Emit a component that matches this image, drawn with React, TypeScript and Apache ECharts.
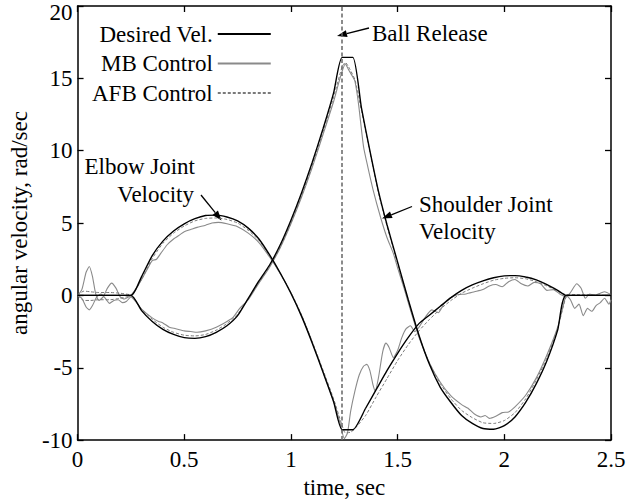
import React, { useEffect, useRef } from "react";
import * as echarts from "echarts";

const X_TICKS = [0, 0.5, 1, 1.5, 2, 2.5];
const Y_TICKS = [-10, -5, 0, 5, 10, 15, 20];
const LEGEND_NAMES = ["Desired Vel.", "MB Control", "AFB Control"];
const BALL_RELEASE_T = 1.24;

const desiredElbow = [
  [0, 0], [0.25, 0], [0.3, 1.3], [0.35, 2.75], [0.4, 3.75], [0.45, 4.45], [0.5, 4.95], [0.55, 5.3], [0.6, 5.52],
  [0.65, 5.55], [0.7, 5.42], [0.75, 5.15], [0.8, 4.65], [0.85, 3.9], [0.9, 2.8], [0.95, 1.55], [1.0, 0.15],
  [1.05, -1.45], [1.1, -3.3], [1.15, -5.3], [1.2, -7.35], [1.24, -9.28], [1.29, -9.28], [1.35, -7.8], [1.4, -6.5],
  [1.45, -5.2], [1.5, -4.0], [1.55, -2.9], [1.6, -1.95], [1.65, -1.35], [1.7, -0.75], [1.75, -0.15], [1.8, 0.35],
  [1.85, 0.72], [1.9, 1.0], [1.95, 1.22], [2.0, 1.35], [2.05, 1.37], [2.1, 1.27], [2.15, 1.07], [2.2, 0.75],
  [2.25, 0.35], [2.29, 0], [2.5, 0],
];

const desiredShoulder = [
  [0, 0], [0.25, 0], [0.3, -1.05], [0.35, -1.8], [0.4, -2.35], [0.45, -2.7], [0.5, -2.92], [0.55, -2.97],
  [0.6, -2.85], [0.65, -2.55], [0.7, -2.1], [0.75, -1.4], [0.8, -0.2], [0.85, 1.0], [0.9, 2.1], [0.95, 3.5],
  [1.0, 5.2], [1.05, 7.1], [1.1, 9.2], [1.15, 11.5], [1.2, 14.0], [1.24, 16.45], [1.29, 16.45], [1.33, 13.0],
  [1.37, 10.0], [1.41, 7.2], [1.45, 4.9], [1.5, 2.3], [1.55, -0.3], [1.6, -2.75], [1.65, -4.8], [1.7, -6.35],
  [1.75, -7.4], [1.8, -8.3], [1.85, -8.85], [1.9, -9.2], [1.95, -9.25], [2.0, -9.0], [2.05, -8.4], [2.1, -7.4],
  [2.15, -6.1], [2.2, -4.5], [2.25, -2.4], [2.29, 0], [2.5, 0],
];

const mbElbow = [
  [0, 0], [0.02, 0.4], [0.04, 1.6], [0.055, 2.0], [0.07, 1.3], [0.085, 0.1], [0.1, -0.35], [0.12, -0.1],
  [0.14, 0.5], [0.16, 0.85], [0.18, 0.5], [0.2, -0.1], [0.22, -0.25], [0.24, -0.1], [0.25, 0], [0.28, 0.6],
  [0.3, 1.1], [0.33, 1.9], [0.35, 2.4], [0.37, 2.5], [0.39, 2.9], [0.42, 3.5], [0.45, 3.9], [0.48, 4.2],
  [0.5, 4.4], [0.53, 4.55], [0.56, 4.7], [0.6, 4.85], [0.63, 5.0], [0.66, 5.05], [0.7, 4.95], [0.75, 4.75],
  [0.8, 4.3], [0.85, 3.65], [0.9, 2.65], [0.95, 1.5], [1.0, 0.15], [1.05, -1.4], [1.1, -3.25], [1.15, -5.25],
  [1.2, -7.3], [1.23, -8.8], [1.25, -9.9], [1.265, -9.5], [1.28, -8.0], [1.3, -6.6], [1.32, -5.5], [1.34, -4.9],
  [1.355, -4.77], [1.37, -5.2], [1.385, -6.2], [1.395, -6.6], [1.41, -5.7], [1.43, -3.9], [1.445, -3.3],
  [1.46, -3.6], [1.48, -4.3], [1.5, -3.8], [1.52, -2.9], [1.54, -2.3], [1.56, -2.1], [1.58, -2.5], [1.6, -2.2],
  [1.63, -1.5], [1.66, -1.0], [1.69, -1.2], [1.72, -0.5], [1.75, -0.15], [1.78, 0.05], [1.82, 0.1], [1.86, 0.25],
  [1.9, 0.4], [1.93, 0.65], [1.96, 0.75], [1.99, 0.6], [2.02, 0.95], [2.05, 1.1], [2.08, 0.8], [2.11, 0.65],
  [2.14, 0.9], [2.17, 0.8], [2.2, 0.35], [2.23, 0.4], [2.26, 0.1], [2.29, -0.1], [2.31, 0.2], [2.34, 0.8],
  [2.36, 0.5], [2.38, -0.2], [2.4, 0.1], [2.42, 0.0], [2.45, 0.15], [2.47, 0.25], [2.5, 0.05],
];

const mbShoulder = [
  [0, 0], [0.02, -0.2], [0.04, -0.8], [0.055, -1.0], [0.07, -0.7], [0.09, -0.1], [0.11, 0.1], [0.13, -0.2],
  [0.15, -0.55], [0.17, -0.35], [0.19, -0.3], [0.21, -0.5], [0.23, -0.4], [0.25, -0.1], [0.3, -0.95],
  [0.35, -1.55], [0.38, -1.8], [0.4, -1.9], [0.43, -2.2], [0.46, -2.3], [0.5, -2.45], [0.53, -2.5], [0.56, -2.55],
  [0.6, -2.45], [0.65, -2.2], [0.7, -1.8], [0.73, -1.5], [0.76, -0.9], [0.8, -0.3], [0.85, 0.85], [0.9, 1.95],
  [0.95, 3.3], [1.0, 4.95], [1.05, 6.8], [1.1, 8.85], [1.15, 11.1], [1.2, 13.4], [1.23, 15.0], [1.255, 16.0],
  [1.27, 15.6], [1.29, 15.1], [1.3, 14.8], [1.317, 13.2], [1.34, 10.3], [1.36, 8.9], [1.385, 7.3], [1.42, 5.4],
  [1.45, 4.0], [1.48, 2.9], [1.5, 1.9], [1.53, 0.5], [1.56, -1.0], [1.6, -2.9], [1.65, -4.7], [1.7, -6.0],
  [1.75, -6.95], [1.8, -7.55], [1.83, -7.8], [1.86, -8.2], [1.89, -8.4], [1.91, -8.3], [1.93, -8.5],
  [1.96, -8.35], [1.99, -8.1], [2.02, -8.05], [2.05, -7.7], [2.1, -6.9], [2.15, -5.7], [2.2, -4.1], [2.25, -2.2],
  [2.28, -0.5], [2.29, 0], [2.31, -0.3], [2.33, -0.9], [2.35, -0.6], [2.37, -1.4], [2.39, -0.9], [2.41, -1.1],
  [2.43, -0.7], [2.45, -0.5], [2.47, -0.2], [2.49, -0.6], [2.5, -0.3],
];

const afbElbow = [
  [0, 0], [0.03, 0.3], [0.06, 0.25], [0.1, 0.2], [0.15, 0.2], [0.2, 0.15], [0.25, 0.05], [0.3, 1.1],
  [0.35, 2.55], [0.4, 3.6], [0.45, 4.3], [0.5, 4.8], [0.55, 5.15], [0.6, 5.32], [0.65, 5.35], [0.7, 5.25],
  [0.75, 5.0], [0.8, 4.5], [0.85, 3.8], [0.9, 2.75], [0.95, 1.5], [1.0, 0.2], [1.05, -1.35], [1.1, -3.2],
  [1.15, -5.15], [1.2, -7.15], [1.24, -9.0], [1.255, -9.5], [1.28, -9.45], [1.3, -9.2], [1.35, -8.3],
  [1.4, -7.0], [1.45, -5.75], [1.5, -4.5], [1.55, -3.4], [1.6, -2.45], [1.65, -1.65], [1.7, -0.95],
  [1.75, -0.35], [1.8, 0.15], [1.85, 0.5], [1.9, 0.8], [1.95, 1.05], [2.0, 1.18], [2.05, 1.22], [2.1, 1.15],
  [2.15, 0.95], [2.2, 0.65], [2.25, 0.3], [2.29, 0.05], [2.35, 0.05], [2.5, 0],
];

const afbShoulder = [
  [0, 0], [0.03, -0.35], [0.06, -0.35], [0.1, -0.3], [0.15, -0.3], [0.2, -0.2], [0.25, -0.05], [0.3, -0.95],
  [0.35, -1.65], [0.4, -2.2], [0.45, -2.55], [0.5, -2.75], [0.55, -2.8], [0.6, -2.7], [0.65, -2.4],
  [0.7, -1.95], [0.75, -1.3], [0.8, -0.25], [0.85, 0.9], [0.9, 2.0], [0.95, 3.35], [1.0, 5.0], [1.05, 6.9],
  [1.1, 9.0], [1.15, 11.3], [1.2, 13.7], [1.24, 15.8], [1.255, 16.1], [1.27, 15.8], [1.3, 14.9], [1.33, 12.8],
  [1.37, 9.9], [1.41, 7.1], [1.45, 4.8], [1.5, 2.2], [1.55, -0.4], [1.6, -2.8], [1.65, -4.7], [1.7, -6.1],
  [1.75, -7.15], [1.8, -7.95], [1.85, -8.45], [1.9, -8.8], [1.95, -8.85], [2.0, -8.65], [2.05, -8.1],
  [2.1, -7.15], [2.15, -5.85], [2.2, -4.3], [2.25, -2.3], [2.29, -0.1], [2.32, 0], [2.5, 0],
];

const FONT = "Liberation Serif";
const FS = 23;

function arrow(tail: number[], tip: number[]) {
  const dx = tip[0] - tail[0];
  const dy = tip[1] - tail[1];
  const len = Math.sqrt(dx * dx + dy * dy);
  const ux = dx / len;
  const uy = dy / len;
  const hl = 10;
  const hw = 3.5;
  const bx = tip[0] - ux * hl;
  const by = tip[1] - uy * hl;
  return [
    { type: "line", shape: { x1: tail[0], y1: tail[1], x2: bx, y2: by }, style: { stroke: "#000", lineWidth: 1.3 } },
    {
      type: "polygon",
      shape: { points: [[tip[0], tip[1]], [bx - uy * hw, by + ux * hw], [bx + uy * hw, by - ux * hw]] },
      style: { fill: "#000" },
    },
  ];
}

function label(text: string, x: number, y: number, align: string) {
  return {
    type: "text",
    x,
    y,
    style: { text, fontSize: FS, fontFamily: FONT, fill: "#000", align, verticalAlign: "middle" },
  };
}

export default function App() {
  const ref = useRef<HTMLDivElement>(null);
  useEffect(() => {
    if (!ref.current) return;
    const chart = echarts.init(ref.current, null, { renderer: "svg" });
    const xMin = X_TICKS[0];
    const xMax = X_TICKS[X_TICKS.length - 1];
    const xInt = X_TICKS[1] - X_TICKS[0];
    const yMin = Y_TICKS[0];
    const yMax = Y_TICKS[Y_TICKS.length - 1];
    const yInt = Y_TICKS[1] - Y_TICKS[0];
    const axisLine = { show: true, onZero: false, lineStyle: { color: "#000", width: 1.5 } };
    const axisTick = { show: true, inside: true, length: 6, lineStyle: { color: "#000", width: 1.3 } };
    const desiredStyle = { color: "#000", width: 1.4 };
    const mbStyle = { color: "#8a8a8a", width: 1.1 };
    const afbStyle = { color: "#7a7a7a", width: 1, type: [3, 2] };
    const mk = (name: string, data: number[][], ls: any, extra: any = {}) => ({
      name,
      type: "line",
      data,
      symbol: "none",
      smooth: 0.2,
      lineStyle: ls,
      itemStyle: { color: ls.color },
      ...extra,
    });
    const option: any = {
      animation: false,
      backgroundColor: "#fff",
      grid: { left: 63, right: 31, top: 6, bottom: 55 },
      legend: {
        orient: "vertical",
        left: 92,
        top: 22,
        align: "right",
        itemWidth: 53,
        itemHeight: 14,
        itemGap: 5.5,
        padding: 0,
        selectedMode: false,
        data: LEGEND_NAMES,
        itemStyle: { opacity: 0 },
        textStyle: { fontFamily: FONT, fontSize: FS, color: "#000", lineHeight: 24 },
      },
      xAxis: [
        {
          type: "value",
          min: xMin,
          max: xMax,
          interval: xInt,
          position: "bottom",
          axisLine,
          axisTick,
          splitLine: { show: false },
          axisLabel: { fontFamily: FONT, fontSize: FS, color: "#000", margin: 8 },
          name: "time, sec",
          nameLocation: "middle",
          nameGap: 33,
          nameTextStyle: { fontFamily: FONT, fontSize: FS, color: "#000" },
        },
        {
          type: "value",
          min: xMin,
          max: xMax,
          interval: xInt,
          position: "top",
          axisLine,
          axisTick,
          splitLine: { show: false },
          axisLabel: { show: false },
        },
      ],
      yAxis: [
        {
          type: "value",
          min: yMin,
          max: yMax,
          interval: yInt,
          position: "left",
          axisLine,
          axisTick,
          splitLine: { show: false },
          axisLabel: {
            fontFamily: FONT,
            fontSize: FS,
            color: "#000",
            margin: 5,
            formatter: (v: number) => (v === yMax ? `{top|${v}}` : `${v}`),
            rich: { top: { fontFamily: FONT, fontSize: FS, color: "#000", padding: [13, 0, 0, 0] } },
          },
          name: "angular velocity, rad/sec",
          nameLocation: "middle",
          nameGap: 37,
          nameTextStyle: { fontFamily: FONT, fontSize: FS, color: "#000" },
        },
        {
          type: "value",
          min: yMin,
          max: yMax,
          interval: yInt,
          position: "right",
          axisLine,
          axisTick,
          splitLine: { show: false },
          axisLabel: { show: false },
        },
      ],
      series: [
        mk(LEGEND_NAMES[1], mbElbow, mbStyle),
        mk(LEGEND_NAMES[1], mbShoulder, mbStyle),
        mk(LEGEND_NAMES[2], afbElbow, afbStyle),
        mk(LEGEND_NAMES[2], afbShoulder, afbStyle),
        mk(LEGEND_NAMES[0], desiredElbow, desiredStyle, {
          markLine: {
            silent: true,
            symbol: "none",
            label: { show: false },
            lineStyle: { color: "#666", width: 1.5, type: [4, 2.5] },
            data: [{ xAxis: BALL_RELEASE_T }],
          },
        }),
        mk(LEGEND_NAMES[0], desiredShoulder, desiredStyle),
      ],
      graphic: [
        label("Ball Release", 372, 33, "left"),
        ...arrow([369, 28], [337, 36]),
        label("Elbow Joint", 195, 166, "right"),
        label("Velocity", 194, 194, "right"),
        ...arrow([201, 195], [221.5, 220.5]),
        label("Shoulder Joint", 419, 204, "left"),
        label("Velocity", 419, 231, "left"),
        ...arrow([412, 206.5], [382, 218.5]),
      ],
    };
    chart.setOption(option);
    return () => chart.dispose();
  }, []);
  return (
    <div
      ref={ref}
      style={{ position: "fixed", left: 0, top: 0, width: 642, height: 504, background: "#fff" }}
    />
  );
}
